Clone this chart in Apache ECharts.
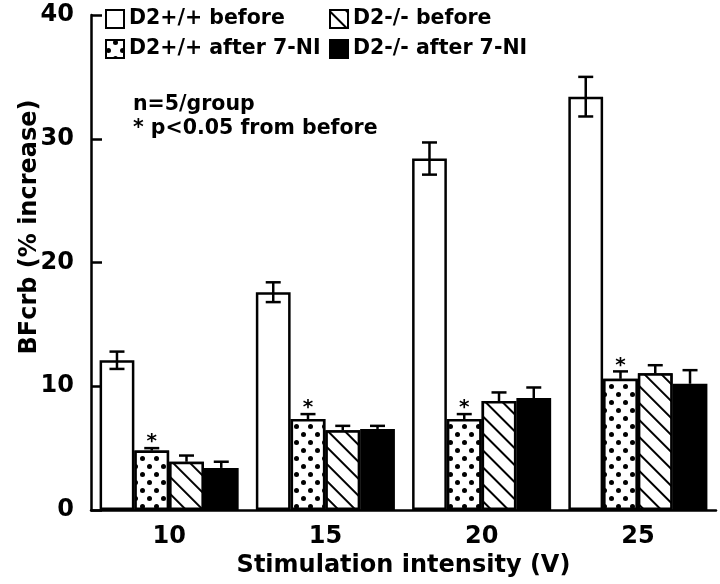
<!DOCTYPE html>
<html>
<head>
<meta charset="utf-8">
<script src="https://cdn.jsdelivr.net/npm/echarts@6/dist/echarts.min.js"></script>
<style>html,body{margin:0;padding:0;background:#fff;}#c{width:720px;height:584px;}</style>
</head>
<body>
<div id="c"></div>
<script>
const categories = ['10', '15', '20', '25'];
const seriesNames = ['D2+/+ before', 'D2+/+ after 7-NI', 'D2-/- before', 'D2-/- after 7-NI'];
const wtBefore = [12.1, 17.6, 28.4, 33.4];
const wtBeforeErr = [0.7, 0.8, 1.3, 1.6];
const wtAfter = [4.8, 7.35, 7.35, 10.6];
const wtAfterErr = [0.2, 0.4, 0.4, 0.6];
const koBefore = [3.9, 6.45, 8.8, 11.05];
const koBeforeErr = [0.5, 0.35, 0.7, 0.65];
const koAfter = [3.4, 6.55, 9.05, 10.2];
const koAfterErr = [0.5, 0.25, 0.85, 1.1];
const starOnAfter = [1, 1, 1, 1];
const yTicks = [0, 10, 20, 30, 40];
const xTitle = 'Stimulation intensity (V)';
const yTitle = 'BFcrb (% increase)';
const notes = ['n=5/group', '* p<0.05 from before'];

const FONT = 'DejaVu Sans';
const GAP = 0.11;
const values = [wtBefore, wtAfter, koBefore, koAfter];
const errs = [wtBeforeErr, wtAfterErr, koBeforeErr, koAfterErr];

const styles = [
  {color: '#fff', borderColor: '#000', borderWidth: 2.5},
  {color: '#fff', borderColor: '#000', borderWidth: 2.5,
   decal: {symbol: 'circle', symbolSize: 1, color: '#000', backgroundColor: '#fff',
           dashArrayX: [[4.5, 8.5], [0, 6.5, 4.5, 2]], dashArrayY: [4.5, 2.5]}},
  {color: '#fff', borderColor: '#000', borderWidth: 2.5,
   decal: {symbol: 'rect', symbolSize: 1, color: '#000', backgroundColor: '#fff',
           dashArrayX: [[1, 0]], dashArrayY: [2, 10], rotation: Math.PI / 4}},
  {color: '#000', borderColor: '#000', borderWidth: 2.5}
];

const barSeries = values.map((v, i) => ({
  name: seriesNames[i], type: 'bar', data: v,
  barGap: '0%', barCategoryGap: (GAP * 100) + '%',
  itemStyle: styles[i], z: 2
}));

const errData = [];
values.forEach((v, s) => v.forEach((val, c) => {
  errData.push([c, s, val, errs[s][c], s === 0 ? 1 : 0, s === 1 ? starOnAfter[c] : 0]);
}));

const legendText = {fontFamily: FONT, fontWeight: 'bold', fontSize: 20.5, color: '#000', lineHeight: 22};
const chart = echarts.init(document.getElementById('c'));
chart.setOption({
  animation: false,
  backgroundColor: '#fff',
  grid: {left: 91, right: 4, top: 15, bottom: 74},
  legend: [
    {data: [seriesNames[0], seriesNames[1]], orient: 'vertical', left: 100, top: 3, itemGap: 8,
     itemWidth: 18, itemHeight: 18, icon: 'rect', selectedMode: false, textStyle: legendText},
    {data: [seriesNames[2], seriesNames[3]], orient: 'vertical', left: 324, top: 3, itemGap: 8,
     itemWidth: 18, itemHeight: 18, icon: 'rect', selectedMode: false, textStyle: legendText}
  ],
  graphic: [
    {type: 'text', left: 133, top: 94, style: {text: notes[0], fontFamily: FONT, fontWeight: 'bold', fontSize: 20.5, fill: '#000'}},
    {type: 'text', left: 133, top: 118, style: {text: notes[1], fontFamily: FONT, fontWeight: 'bold', fontSize: 20.5, fill: '#000'}},
    {type: 'text', x: 30, y: 227, rotation: Math.PI / 2,
     style: {text: yTitle, fontFamily: FONT, fontWeight: 'bold', fontSize: 24, fill: '#000', align: 'center', verticalAlign: 'middle'}}
  ],
  xAxis: {
    type: 'category', data: categories,
    name: xTitle, nameLocation: 'middle', nameGap: 43,
    nameTextStyle: {fontFamily: FONT, fontWeight: 'bold', fontSize: 24, color: '#000'},
    axisLine: {lineStyle: {color: '#000', width: 2.5}},
    axisTick: {show: false},
    axisLabel: {fontFamily: FONT, fontWeight: 'bold', fontSize: 24, color: '#000', margin: 15}
  },
  yAxis: {
    type: 'value', min: 0, max: 40, interval: 10,
    axisLine: {show: true, lineStyle: {color: '#000', width: 2.5}},
    axisTick: {show: true, inside: true, length: 11, lineStyle: {color: '#000', width: 2.5}},
    splitLine: {show: false},
    axisLabel: {fontFamily: FONT, fontWeight: 'bold', fontSize: 24, color: '#000', margin: 17,
      formatter: v => yTicks.indexOf(v) >= 0 ? String(v) : ''}
  },
  series: barSeries.concat([{
    type: 'custom', z: 5, silent: true,
    data: errData,
    renderItem: function (params, api) {
      const c = api.value(0), s = api.value(1), v = api.value(2), e = api.value(3);
      const both = api.value(4), star = api.value(5);
      const band = api.size([1, 0])[0];
      const barW = band * (1 - GAP) / 4;
      const cx = api.coord([c, 0])[0] + (s - 1.5) * barW;
      const yTop = api.coord([c, v + e])[1];
      const yMid = api.coord([c, v])[1];
      const yBot = api.coord([c, v - e])[1];
      const cap = 7.5;
      const ls = {stroke: '#000', lineWidth: 2.5};
      const children = [
        {type: 'line', shape: {x1: cx, y1: both ? yBot : yMid, x2: cx, y2: yTop}, style: ls},
        {type: 'line', shape: {x1: cx - cap, y1: yTop, x2: cx + cap, y2: yTop}, style: ls}
      ];
      if (both) children.push({type: 'line', shape: {x1: cx - cap, y1: yBot, x2: cx + cap, y2: yBot}, style: ls});
      if (star) children.push({type: 'text', x: cx, y: yTop + 4,
        style: {text: '*', fontFamily: FONT, fontWeight: 'bold', fontSize: 20, fill: '#000',
                align: 'center', verticalAlign: 'bottom'}});
      return {type: 'group', children: children};
    }
  }])
});
</script>
</body>
</html>
